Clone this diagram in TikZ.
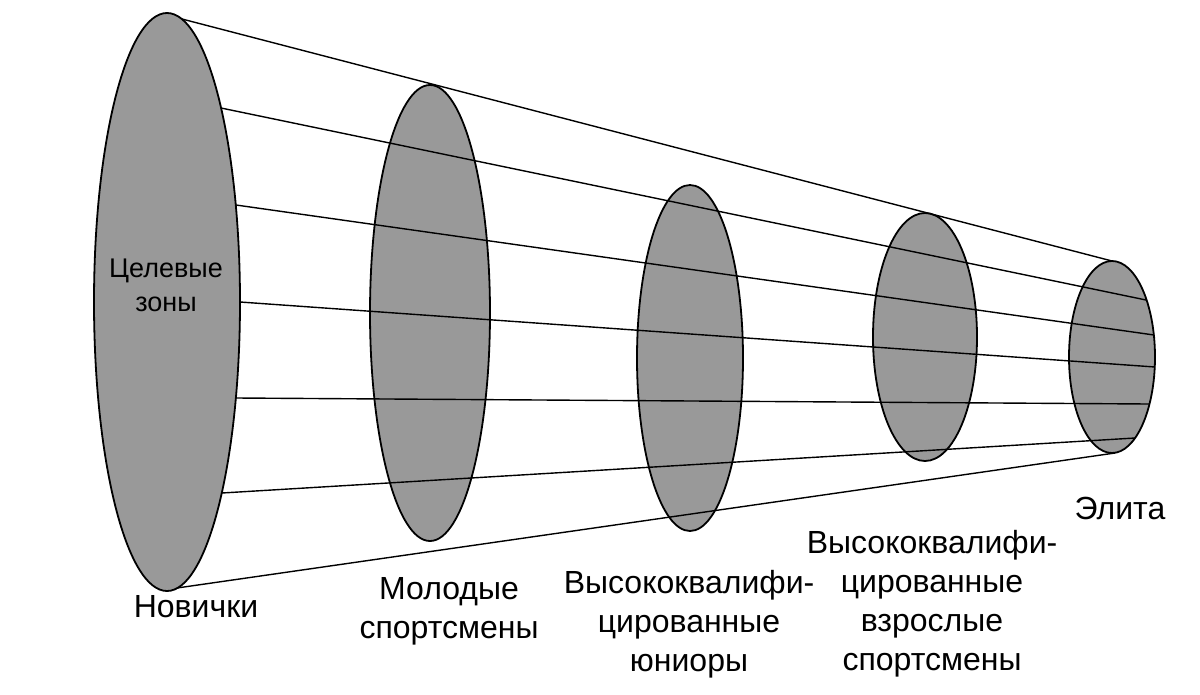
\documentclass[tikz,border=0pt]{standalone}
\usepackage{fontspec}
\setmainfont{Liberation Sans}
\usetikzlibrary{shapes.geometric}
\begin{document}
\begin{tikzpicture}[x=1pt,y=-1pt,
  disc/.style={draw=black,line width=1.8pt,fill=black!40,ellipse,inner sep=0},
  gen/.style={line width=1.4pt},
  lbl/.style={font=\fontsize{32}{39}\selectfont,align=center,inner sep=0}]
\useasboundingbox (0,0) rectangle (1200,694);
\node[disc,minimum width=146,minimum height=578] (e1) at (167,302) {};
\node[disc,minimum width=120,minimum height=456] (e2) at (430,313) {};
\node[disc,minimum width=106,minimum height=346] (e3) at (690,358) {};
\node[disc,minimum width=104,minimum height=248] (e4) at (925,337) {};
\node[disc,minimum width=86,minimum height=192] (e5) at (1112,357) {};
\foreach \i/\xa/\ya/\xb/\yb in {1/182/19/1112/261,2/221/108/1146/300,3/236/205/1154/335,4/240/302/1155/367,5/236/398/1149/404,6/222/493/1135/438,7/177/588/1115/453}{
  \coordinate (l\i) at (\xa,\ya);
  \coordinate (r\i) at (\xb,\yb);
  \draw[gen] (l\i) -- (r\i);
}
\node[lbl,font=\fontsize{27}{34}\selectfont] (t0) at (166,285) {Целевые\\зоны};
\node[lbl] (t1) at (196,607) {Новички};
\node[lbl] (t2) at (449,611) {Молодые\\спортсмены};
\node[lbl] (t3) at (689,624) {Высококвалифи-\\цированные\\юниоры};
\node[lbl] (t4) at (932,604) {Высококвалифи-\\цированные\\взрослые\\спортсмены};
\node[lbl] (t5) at (1120,508) {Элита};
\end{tikzpicture}
\end{document}
